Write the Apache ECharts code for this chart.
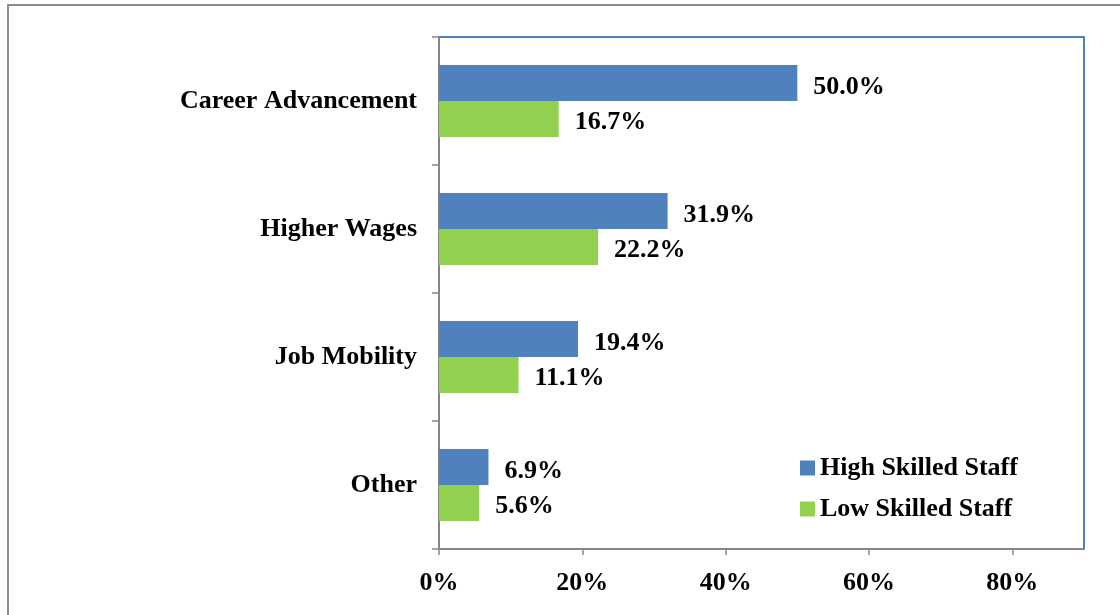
<!DOCTYPE html>
<html>
<head>
<meta charset="utf-8">
<script src="https://cdn.jsdelivr.net/npm/echarts@6/dist/echarts.min.js"></script>
<style>
  html, body { margin: 0; padding: 0; background: #fff; }
  #chart { width: 1120px; height: 615px; }
</style>
</head>
<body>
<div id="chart"></div>
<script>
const categories = ['Career Advancement', 'Higher Wages', 'Job Mobility', 'Other']
const highSkilled = [50.0, 31.9, 19.4, 6.9]
const lowSkilled = [16.7, 22.2, 11.1, 5.6]

const font = 'Liberation Serif'
const textStyle = { fontFamily: font, fontWeight: 'bold', fontSize: 26, color: '#000' }

const chart = echarts.init(document.getElementById('chart'))
chart.setOption({
  animation: false,
  graphic: [
    {
      type: 'rect',
      shape: { x: 8, y: 5, width: 1300, height: 800 },
      style: { fill: 'none', stroke: '#8c8c8c', lineWidth: 2 },
      silent: true,
    },
  ],
  legend: {
    orient: 'vertical',
    left: 795,
    top: 450,
    itemWidth: 15,
    itemHeight: 15,
    itemGap: 15,
    icon: 'rect',
    textStyle: { ...textStyle },
    data: ['High Skilled Staff', 'Low Skilled Staff'],
  },
  grid: {
    left: 439,
    right: 36,
    top: 37,
    bottom: 66,
    show: true,
    borderColor: '#4F81BD',
    borderWidth: 2,
  },
  xAxis: {
    type: 'value',
    min: 0,
    max: 90,
    interval: 20,
    splitLine: { show: false },
    axisLine: { show: true, lineStyle: { color: '#868686', width: 2 } },
    axisTick: { show: true, length: 6, lineStyle: { color: '#868686', width: 1.5 } },
    axisLabel: {
      ...textStyle,
      margin: 21,
      showMaxLabel: false,
      formatter: (v) => v + '%',
    },
  },
  yAxis: {
    type: 'category',
    inverse: true,
    data: categories,
    axisLine: { show: true, lineStyle: { color: '#868686', width: 2 } },
    axisTick: { show: true, length: 7, lineStyle: { color: '#868686', width: 1.5 } },
    axisLabel: { ...textStyle, margin: 22 },
  },
  series: [
    {
      name: 'High Skilled Staff',
      type: 'bar',
      data: highSkilled,
      barGap: '0%',
      barCategoryGap: '43.75%',
      itemStyle: { color: '#4F81BD' },
      label: {
        show: true,
        position: 'right',
        distance: 16,
        offset: [0, 4],
        ...textStyle,
        formatter: (p) => p.value.toFixed(1) + '%',
      },
    },
    {
      name: 'Low Skilled Staff',
      type: 'bar',
      data: lowSkilled,
      barGap: '0%',
      barCategoryGap: '43.75%',
      itemStyle: { color: '#92D050' },
      label: {
        show: true,
        position: 'right',
        distance: 16,
        offset: [0, 3],
        ...textStyle,
        formatter: (p) => p.value.toFixed(1) + '%',
      },
    },
  ],
})
window.addEventListener('resize', () => chart.resize())
</script>
</body>
</html>
